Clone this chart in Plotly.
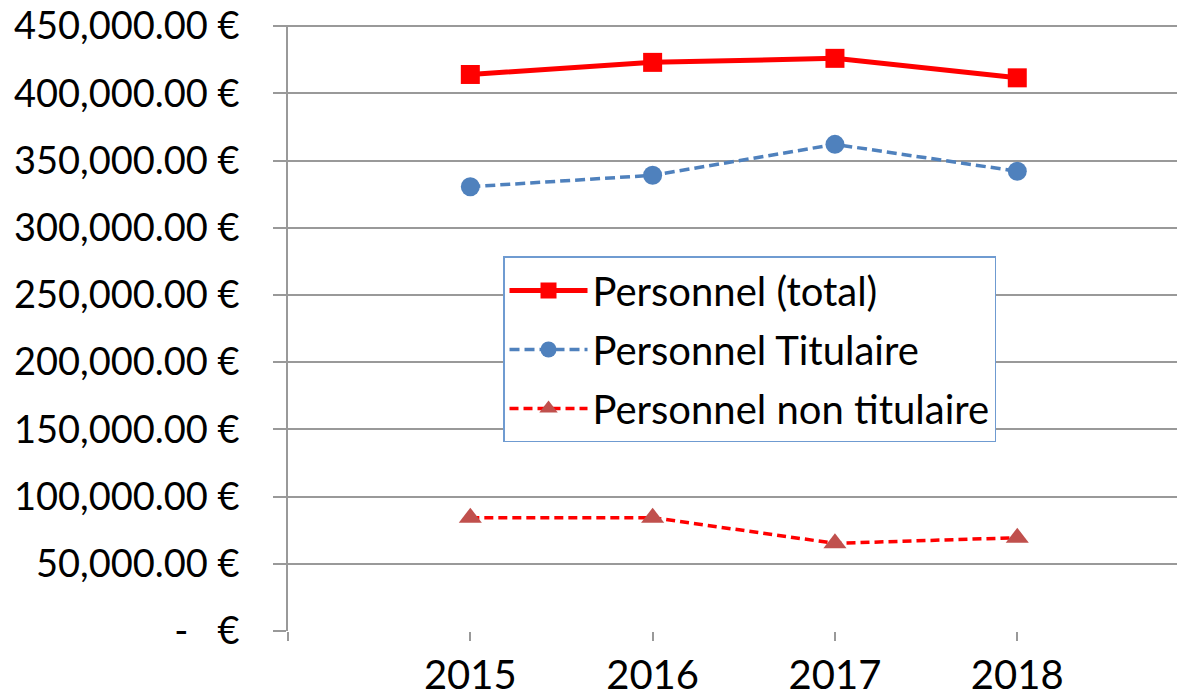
import plotly.graph_objects as go

years = [2015, 2016, 2017, 2018]
total = [414000, 423000, 426000, 411500]
titulaire = [330500, 339000, 362000, 342000]
non_titulaire = [84300, 84300, 65200, 69400]

y_ticks = [0, 50000, 100000, 150000, 200000, 250000, 300000, 350000, 400000, 450000]
y_ticktext = ["-\u00a0\u00a0\u00a0\u20ac"] + [f"{v:,.2f} \u20ac" for v in y_ticks[1:]]

FONT = "Lato"
GRID = "#999999"

fig = go.Figure()
fig.add_trace(go.Scatter(
    x=years, y=total, name="Personnel (total)", mode="lines+markers", legendgroup="a",
    line=dict(color="#FF0000", width=5),
    marker=dict(symbol="square", size=19, color="#FF0000"),
))
fig.add_trace(go.Scatter(
    x=years, y=titulaire, name="Personnel Titulaire", mode="lines+markers", legendgroup="b",
    line=dict(color="#4F81BD", width=3.5, dash="10px,5px"),
    marker=dict(symbol="circle", size=19, color="#4F81BD"),
))
fig.add_trace(go.Scatter(
    x=years, y=non_titulaire, name="Personnel non titulaire", mode="lines+markers", legendgroup="c",
    line=dict(color="#FF0000", width=3.5, dash="9px,5px"),
    marker=dict(symbol="triangle-up", size=20, color="#C0504D"),
))

fig.update_layout(
    width=1177, height=689,
    margin=dict(l=280, r=0, t=17, b=66),
    paper_bgcolor="white", plot_bgcolor="white",
    font=dict(family=FONT, color="black"),
    showlegend=True,
    legend=dict(
        x=0.2397, y=0.618, xanchor="left", yanchor="top",
        bgcolor="white", bordercolor="#6F9BD1", borderwidth=1.5,
        font=dict(family=FONT, size=40, color="black"),
        itemwidth=78, tracegroupgap=4,
    ),
)
fig.update_xaxes(
    range=[2014, 2018.92], tickvals=[2014] + years, ticktext=[""] + [str(y) for y in years],
    showgrid=False, zeroline=False, showline=False, automargin=False,
    ticks="outside", ticklen=9, tickcolor=GRID, tickwidth=1.5,
    tickfont=dict(family=FONT, size=40, color="black"),
    ticklabeloverflow="allow",
)
fig.update_yaxes(
    range=[0, 450800], tickvals=y_ticks, ticktext=y_ticktext,
    showgrid=True, gridcolor=GRID, gridwidth=1.5, zeroline=False,
    showline=True, linecolor=GRID, linewidth=1.5, automargin=False,
    ticks="outside", ticklen=13, tickcolor=GRID, tickwidth=1.5,
    tickfont=dict(family=FONT, size=38, color="black"),
    ticklabelstandoff=26, ticklabeloverflow="allow",
)

fig.write_html("out.html")
